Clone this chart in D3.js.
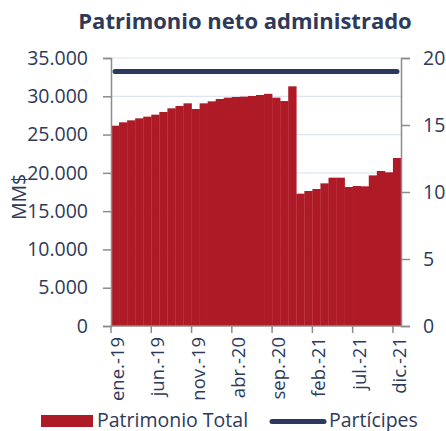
<!DOCTYPE html>
<html>
<head>
<meta charset="utf-8">
<script src="https://cdn.jsdelivr.net/npm/d3@7"></script>
<style>
  body { margin: 0; background: #fff; }
  text { font-family: "Open Sans", "Noto Sans", sans-serif; fill: #2E3A5A; }
</style>
</head>
<body>
<svg id="chart"></svg>
<script>
// data
const months = ['ene.-19','feb.-19','mar.-19','abr.-19','may.-19','jun.-19','jul.-19','ago.-19','sep.-19','oct.-19','nov.-19','dic.-19',
  'ene.-20','feb.-20','mar.-20','abr.-20','may.-20','jun.-20','jul.-20','ago.-20','sep.-20','oct.-20','nov.-20','dic.-20',
  'ene.-21','feb.-21','mar.-21','abr.-21','may.-21','jun.-21','jul.-21','ago.-21','sep.-21','oct.-21','nov.-21','dic.-21'];
const patrimonio = [26160, 26600, 26860, 27120, 27340, 27600, 27950, 28430, 28730, 29080, 28340, 29080,
  29340, 29650, 29820, 29910, 29950, 30040, 30170, 30320, 29820, 29380, 31300, 17280,
  17630, 17890, 18630, 19370, 19370, 18150, 18280, 18240, 19670, 20240, 20070, 21940];
const participes = months.map(() => 19);
const leftTicks = [0, 5000, 10000, 15000, 20000, 25000, 30000, 35000];
const rightTicks = [0, 5, 10, 15, 20];
const xLabels = ['ene.-19','jun.-19','nov.-19','abr.-20','sep.-20','feb.-21','jul.-21','dic.-21'];

const width = 446, height = 431;
const margin = { left: 111, right: 45, top: 58, bottom: 105 };
const visWidth = width - margin.left - margin.right;
const visHeight = height - margin.top - margin.bottom;

const red = '#AE1A25', navy = '#2B3A5C';

const svg = d3.select('svg#chart').attr('width', width).attr('height', height);
const g = svg.append('g').attr('transform', `translate(${margin.left},${margin.top})`);

const x = d3.scaleBand().domain(months).range([0, visWidth]).padding(0);
const yL = d3.scaleLinear().domain([0, 35000]).range([visHeight, 0]);
const yR = d3.scaleLinear().domain([0, 20]).range([visHeight, 0]);

// gridlines
g.append('g').selectAll('line').data(leftTicks.filter(d => d > 0)).enter().append('line')
  .attr('x1', 0).attr('x2', visWidth)
  .attr('y1', d => yL(d)).attr('y2', d => yL(d))
  .attr('stroke', '#DCE6F2').attr('stroke-width', 1.2);

// bars
g.append('g').selectAll('rect').data(patrimonio).enter().append('rect')
  .attr('x', (d, i) => x(months[i]))
  .attr('width', x.bandwidth() + 0.3)
  .attr('y', d => yL(d))
  .attr('height', d => visHeight - yL(d))
  .attr('fill', red);

// line
const line = d3.line()
  .x((d, i) => x(months[i]) + x.bandwidth() / 2)
  .y(d => yR(d));
g.append('path').datum(participes)
  .attr('d', line)
  .attr('fill', 'none').attr('stroke', navy)
  .attr('stroke-width', 5).attr('stroke-linecap', 'round');

// axes
const fmt = d => d3.format(',')(d).replace(/,/g, '.');
const leftAxis = g.append('g')
  .call(d3.axisLeft(yL).tickValues(leftTicks).tickFormat(fmt).tickSize(8).tickPadding(15));
const rightAxis = g.append('g').attr('transform', `translate(${visWidth},0)`)
  .call(d3.axisRight(yR).tickValues(rightTicks).tickSize(9).tickPadding(13));
[leftAxis, rightAxis].forEach(a => {
  a.select('.domain').attr('stroke', '#8C8C8C').attr('stroke-width', 1.5);
  a.selectAll('.tick line').attr('stroke', '#8C8C8C').attr('stroke-width', 1.5);
  a.selectAll('text').style('font-size', '19.5px').attr('fill', '#2E3A5A');
});

// bottom axis
const bottom = g.append('g').attr('transform', `translate(0,${visHeight})`);
bottom.append('line').attr('x1', 0).attr('x2', visWidth).attr('stroke', '#8C8C8C').attr('stroke-width', 1.5);
bottom.selectAll('line.tk').data(xLabels).enter().append('line').attr('class', 'tk')
  .attr('x1', d => x(d)).attr('x2', d => x(d)).attr('y1', 0).attr('y2', 7)
  .attr('stroke', '#8C8C8C').attr('stroke-width', 1.5);
bottom.selectAll('text').data(xLabels).enter().append('text')
  .attr('transform', d => `translate(${x(d) + 13},11) rotate(-90)`)
  .attr('text-anchor', 'end')
  .style('font-size', '18.5px')
  .text(d => d);

// axis title
svg.append('text')
  .attr('transform', `translate(26,197) rotate(-90)`)
  .attr('text-anchor', 'middle').style('font-size', '19.5px')
  .text('MM$');

// title
svg.append('text').attr('x', 245).attr('y', 29).attr('text-anchor', 'middle')
  .style('font-size', '22px').style('font-weight', 'bold')
  .text('Patrimonio neto administrado');

// legend
const leg = svg.append('g');
leg.append('rect').attr('x', 41).attr('y', 415).attr('width', 52).attr('height', 12).attr('fill', red);
leg.append('text').attr('x', 97).attr('y', 427).style('font-size', '19.5px').text('Patrimonio Total');
leg.append('line').attr('x1', 272).attr('x2', 324).attr('y1', 421.5).attr('y2', 421.5)
  .attr('stroke', navy).attr('stroke-width', 5).attr('stroke-linecap', 'round');
leg.append('text').attr('x', 329).attr('y', 427).style('font-size', '19.5px').text('Partícipes');
</script>
</body>
</html>
